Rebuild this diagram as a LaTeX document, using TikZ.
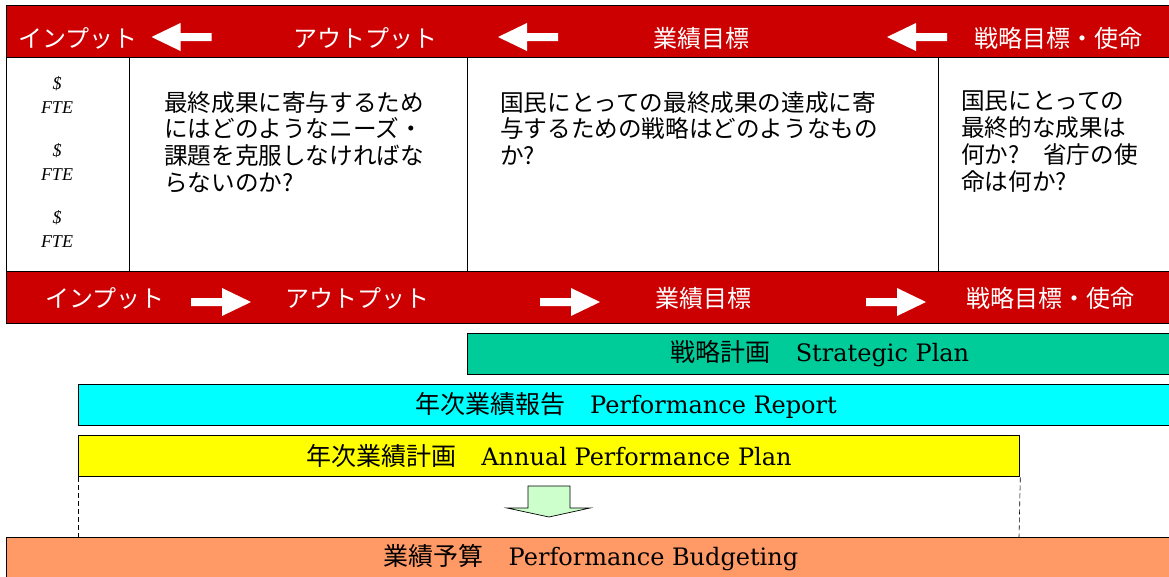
\documentclass[tikz,border=0pt]{standalone}
\usepackage{fontspec}
\setmainfont{DejaVu Serif}
\newfontfamily\jp{Noto Sans CJK JP}
\newfontfamily\ftefont{Liberation Serif}
\definecolor{barred}{HTML}{CC0000}
\definecolor{bargreen}{HTML}{00CC99}
\definecolor{barcyan}{HTML}{00FFFF}
\definecolor{baryellow}{HTML}{FFFF00}
\definecolor{barorange}{HTML}{FF9966}
\definecolor{arrowgreen}{HTML}{CCFFCC}
\newcommand\bandjp[1]{{\jp\fontsize{25}{28}\selectfont #1}}
\begin{document}
\begin{tikzpicture}[x=1pt,y=-1pt,
  frame/.style={draw=black, line width=1.3pt, inner sep=0pt, anchor=north west},
  redbar/.style={frame, fill=barred, minimum width=1175pt, minimum height=52pt},
  cell/.style={frame, fill=white},
  band/.style={frame, minimum height=41pt},
  bandlabel/.style={inner sep=0pt, font=\fontsize{24}{28}\selectfont},
  redlabel/.style={text=white, inner sep=0pt, font=\jp\fontsize{24}{28}\selectfont},
  celltext/.style={anchor=north west, inner sep=0pt, align=left, text=black, font=\jp\fontsize{23.6}{26.8}\selectfont},
  ftetext/.style={inner sep=0pt, align=center, font=\ftefont\itshape\fontsize{18}{24}\selectfont},
  larrow/.pic={\fill[white] (-30,0) -- (-1,-14) -- (-1,-4) -- (30,-4) -- (30,4) -- (-1,4) -- (-1,14) -- cycle;},
  rarrow/.pic={\fill[white] (30,0) -- (1,-14) -- (1,-4) -- (-30,-4) -- (-30,4) -- (1,4) -- (1,14) -- cycle;}
]
\useasboundingbox (0,0) rectangle (1169,576);
\clip (0,0) rectangle (1169,576);
\fill[white] (0,0) rectangle (1169,576);

% top red bar
\node[redbar] (topbar) at (6,5) {};
% body cells
\node[cell, minimum width=123pt, minimum height=214pt] (c1) at (6,57) {};
\node[cell, minimum width=338pt, minimum height=214pt] (c2) at (129,57) {};
\node[cell, minimum width=471pt, minimum height=214pt] (c3) at (467,57) {};
\node[cell, minimum width=240pt, minimum height=214pt] (c4) at (938,57) {};
% bottom red bar
\node[redbar] (botbar) at (6,271) {};

% top labels
\node[redlabel] (t1) at (78,38) {インプット};
\node[redlabel] (t2) at (365,38) {アウトプット};
\node[redlabel] (t3) at (701,38) {業績目標};
\node[redlabel] (t4) at (1058,38) {戦略目標・使命};
\pic at (181.5,37) {larrow};
\pic at (528,37) {larrow};
\pic at (917,37) {larrow};

% bottom labels
\node[redlabel] (b1) at (105,298) {インプット};
\node[redlabel] (b2) at (357,298) {アウトプット};
\node[redlabel] (b3) at (703,298) {業績目標};
\node[redlabel] (b4) at (1050,298) {戦略目標・使命};
\pic at (221,302) {rarrow};
\pic at (570,302) {rarrow};
\pic at (896,302) {rarrow};

% $ FTE column
\node[ftetext] (f1) at (57,95) {\$\\FTE};
\node[ftetext] (f2) at (57,162) {\$\\FTE};
\node[ftetext] (f3) at (57,229) {\$\\FTE};

% cell texts
\node[celltext] (q2) at (164,91) {最終成果に寄与するため\\にはどのようなニーズ・\\課題を克服しなければな\\らないのか?};
\node[celltext] (q3) at (500,91) {国民にとっての最終成果の達成に寄\\与するための戦略はどのようなもの\\か?};
\node[celltext] (q4) at (961,91) {国民にとっての\\最終的な成果は\\何か?　省庁の使\\命は何か?};

% bands
\node[band, fill=bargreen, minimum width=706pt] (strat) at (467,333) {};
\node[bandlabel] (stratlbl) at (820,354) {\bandjp{戦略計画　}Strategic Plan};
\node[band, fill=barcyan, minimum width=1095pt] (report) at (78,384) {};
\node[bandlabel] (reportlbl) at (626,405) {\bandjp{年次業績報告　}Performance Report};
\node[band, fill=baryellow, minimum width=941pt] (plan) at (78,435) {};
\node[bandlabel] (planlbl) at (549,456) {\bandjp{年次業績計画　}Annual Performance Plan};
\node[band, fill=barorange, minimum width=1175pt, minimum height=50pt] (budget) at (6,537) {};
\node[bandlabel] (budgetlbl) at (591,558) {\bandjp{業績予算　}Performance Budgeting};

% dashed guides
\coordinate (dl) at (78,537);
\coordinate (dr) at (1019,537);
\draw[dash pattern=on 5pt off 3pt, line width=0.6pt] (plan.south west) -- (dl);
\draw[dash pattern=on 5pt off 3pt, line width=0.6pt] (plan.south east) -- (dr);

% down arrow
\filldraw[fill=arrowgreen, draw=black, line width=0.7pt] (528,486) -- (570,486) -- (570,508) -- (590,508) -- (549,517) -- (507,508) -- (528,508) -- cycle;
\end{tikzpicture}
\end{document}
